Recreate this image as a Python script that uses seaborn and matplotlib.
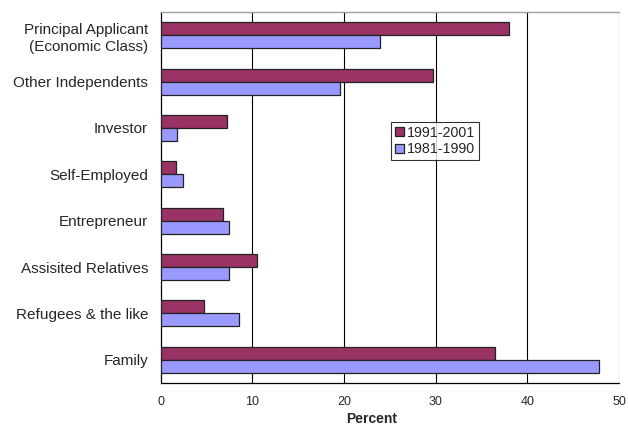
import matplotlib
matplotlib.use("Agg")
import matplotlib.pyplot as plt
import seaborn as sns
import pandas as pd
import numpy as np
from matplotlib.ticker import FixedLocator

categories = ["Principal Applicant\n(Economic Class)", "Other Independents", "Investor",
              "Self-Employed", "Entrepreneur", "Assisited Relatives",
              "Refugees & the like", "Family"]
series_names = ["1991-2001", "1981-1990"]
values_1991_2001 = [38.0, 29.7, 7.2, 1.7, 6.8, 10.5, 4.7, 36.5]
values_1981_1990 = [23.9, 19.6, 1.8, 2.4, 7.5, 7.5, 8.6, 47.8]
x_ticks = [0, 10, 20, 30, 40, 50]

df = pd.DataFrame({
    "Category": categories * 2,
    "Period": [series_names[0]] * len(categories) + [series_names[1]] * len(categories),
    "Percent": values_1991_2001 + values_1981_1990,
})

sns.set_theme(style="white")
plt.rcParams['font.family'] = ['Liberation Sans', 'DejaVu Sans']

fig = plt.figure(figsize=(6.28, 4.25), dpi=100)
ax = fig.add_axes([0.2557, 0.0988, 0.7300, 0.8730])

sns.barplot(data=df, y="Category", x="Percent", hue="Period", order=categories,
            hue_order=series_names, palette=["#993366", "#9999FF"], saturation=1,
            orient="h", width=0.56, gap=0, edgecolor="#222222", linewidth=0.9,
            ax=ax, zorder=3)

ax.set_xlim(0, 50)
ax.set_ylim(len(categories) - 0.5, -0.5)
ax.set_xticks(x_ticks)
ax.set_xticklabels([str(t) for t in x_ticks], fontsize=9)
for t in x_ticks[1:]:
    ax.axvline(t, color="black", linewidth=0.8, zorder=1)

ax.set_yticks(range(len(categories)))
ax.set_yticklabels(categories, fontsize=11, linespacing=1.3)
ax.tick_params(axis="y", which="major", length=0, pad=9)
ax.yaxis.set_minor_locator(FixedLocator(np.arange(-0.5, len(categories), 1.0)))
ax.tick_params(axis="y", which="minor", length=4, width=0.8, color="black", direction="out")
ax.tick_params(axis="x", which="major", length=4, width=0.8, color="black", direction="out", pad=5)
ax.xaxis.set_minor_locator(FixedLocator([]))

ax.set_ylabel("")
ax.set_xlabel("Percent", fontsize=10, fontweight="bold")
ax.xaxis.set_label_coords(0.461, -0.078)

for side in ["left", "bottom"]:
    ax.spines[side].set_color("black")
    ax.spines[side].set_linewidth(0.9)
ax.spines["top"].set_color("#a0a0a0")
ax.spines["top"].set_linewidth(1.0)
ax.spines["right"].set_visible(False)

leg = ax.legend(loc="upper left", bbox_to_anchor=(0.503, 0.7035), borderaxespad=0,
                fontsize=10.3, frameon=True, fancybox=False, handlelength=0.65,
                handleheight=0.65, handletextpad=0.2, borderpad=0.25, labelspacing=0.2)
leg.get_frame().set_edgecolor("black")
leg.get_frame().set_linewidth(0.8)

fig.savefig("out.png", dpi=100)
